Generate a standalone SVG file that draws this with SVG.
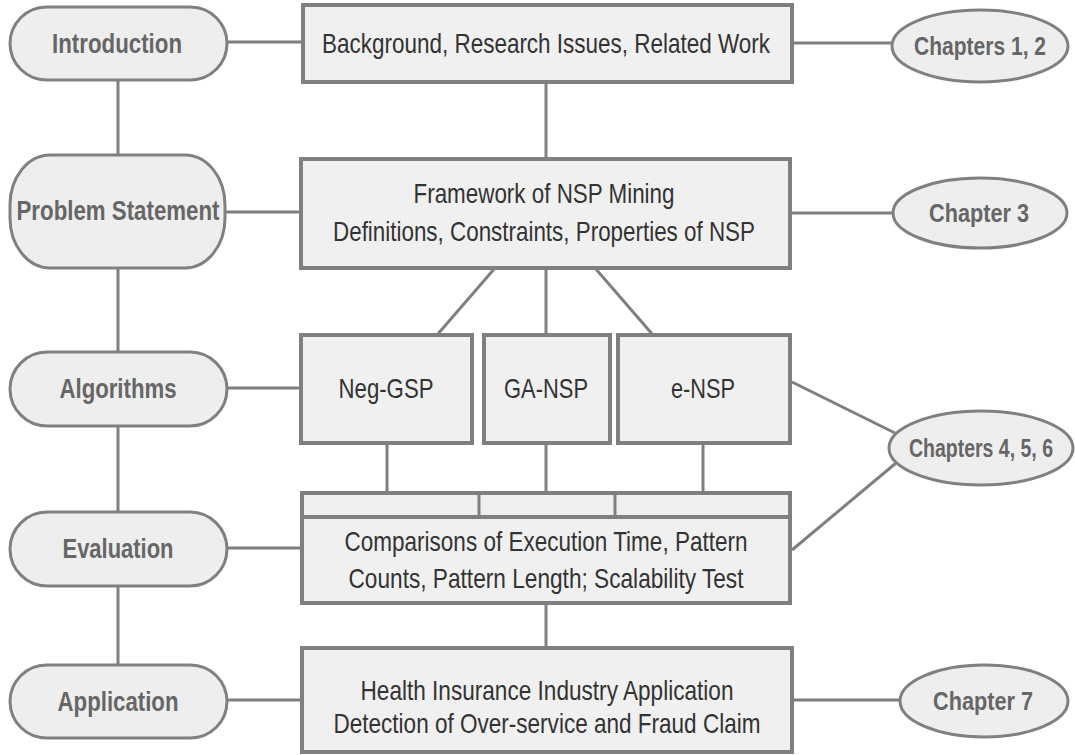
<svg xmlns="http://www.w3.org/2000/svg" width="1075" height="755" viewBox="0 0 1075 755">
<style>
.box{fill:#f0f0f0;stroke:#7f7f7f;stroke-width:4}
.pill{fill:#eeeeee;stroke:#808080;stroke-width:3}
.ell{fill:#eeeeee;stroke:#808080;stroke-width:3}
.ln{stroke:#7f7f7f;stroke-width:3;fill:none}
.t{font-family:"Liberation Sans",Arial,sans-serif;font-size:28px;fill:#333333;text-anchor:middle}
.b{font-family:"Liberation Sans",Arial,sans-serif;font-size:27px;font-weight:bold;fill:#666666;text-anchor:middle}
.c{font-family:"Liberation Sans",Arial,sans-serif;font-size:25px;font-weight:bold;fill:#666666;text-anchor:middle}
</style>
<rect width="1075" height="755" fill="#ffffff"/>
<g id="connectors">
<line class="ln" x1="118" y1="80" x2="118" y2="155"/>
<line class="ln" x1="118" y1="268" x2="118" y2="352"/>
<line class="ln" x1="118" y1="426" x2="118" y2="512"/>
<line class="ln" x1="118" y1="586" x2="118" y2="665"/>
<line class="ln" x1="227" y1="42" x2="303" y2="42"/>
<line class="ln" x1="792" y1="43" x2="892" y2="43"/>
<line class="ln" x1="546" y1="82" x2="546" y2="159"/>
<line class="ln" x1="225" y1="212" x2="301" y2="212"/>
<line class="ln" x1="790" y1="213" x2="892" y2="213"/>
<line class="ln" x1="495" y1="268" x2="437" y2="335"/>
<line class="ln" x1="546" y1="268" x2="546" y2="335"/>
<line class="ln" x1="595" y1="268" x2="653" y2="335"/>
<line class="ln" x1="227" y1="388" x2="301" y2="388"/>
<line class="ln" x1="387" y1="443" x2="387" y2="493"/>
<line class="ln" x1="546" y1="443" x2="546" y2="493"/>
<line class="ln" x1="703" y1="443" x2="703" y2="493"/>
<line class="ln" x1="792" y1="382" x2="895" y2="433"/>
<line class="ln" x1="792" y1="550" x2="896" y2="463"/>
<line class="ln" x1="227" y1="548" x2="302" y2="548"/>
<line class="ln" x1="546" y1="603" x2="546" y2="648"/>
<line class="ln" x1="227" y1="700" x2="302" y2="700"/>
<line class="ln" x1="792" y1="700" x2="900" y2="700"/>
</g>
<g id="introduction">
<rect class="pill" x="10" y="7" width="217" height="73" rx="36.5" ry="36.5"/>
<text class="b" x="117" y="53" textLength="130" lengthAdjust="spacingAndGlyphs">Introduction</text>
</g>
<g id="problem-statement">
<rect class="pill" x="10" y="155" width="215" height="113" rx="40" ry="50"/>
<text class="b" x="118" y="220" textLength="203" lengthAdjust="spacingAndGlyphs">Problem Statement</text>
</g>
<g id="algorithms">
<rect class="pill" x="10" y="352" width="217" height="74" rx="37" ry="37"/>
<text class="b" x="118" y="398" textLength="117" lengthAdjust="spacingAndGlyphs">Algorithms</text>
</g>
<g id="evaluation">
<rect class="pill" x="10" y="512" width="217" height="74" rx="37" ry="37"/>
<text class="b" x="118" y="558" textLength="111" lengthAdjust="spacingAndGlyphs">Evaluation</text>
</g>
<g id="application">
<rect class="pill" x="10" y="665" width="217" height="73" rx="36.5" ry="36.5"/>
<text class="b" x="118" y="711" textLength="121" lengthAdjust="spacingAndGlyphs">Application</text>
</g>
<g id="background">
<rect class="box" x="303" y="5" width="489" height="77"/>
<text class="t" x="546" y="53" textLength="448" lengthAdjust="spacingAndGlyphs">Background, Research Issues, Related Work</text>
</g>
<g id="framework">
<rect class="box" x="301" y="159" width="489" height="109"/>
<text class="t" x="544" y="203" textLength="261" lengthAdjust="spacingAndGlyphs">Framework of NSP Mining</text>
<text class="t" x="544" y="241" textLength="422" lengthAdjust="spacingAndGlyphs">Definitions, Constraints, Properties of NSP</text>
</g>
<g id="neg-gsp">
<rect class="box" x="301" y="335" width="171" height="108"/>
<text class="t" x="386" y="398" textLength="95" lengthAdjust="spacingAndGlyphs">Neg-GSP</text>
</g>
<g id="ga-nsp">
<rect class="box" x="484" y="335" width="126" height="108"/>
<text class="t" x="546" y="398" textLength="84" lengthAdjust="spacingAndGlyphs">GA-NSP</text>
</g>
<g id="e-nsp">
<rect class="box" x="618" y="335" width="172" height="108"/>
<text class="t" x="703" y="398" textLength="64" lengthAdjust="spacingAndGlyphs">e-NSP</text>
</g>
<g id="comparisons">
<rect class="box" x="302" y="493" width="488" height="110"/>
<line class="ln" x1="302" y1="517" x2="790" y2="517" style="stroke-width:4"/>
<line class="ln" x1="479" y1="493" x2="479" y2="517"/>
<line class="ln" x1="615" y1="493" x2="615" y2="517"/>
<text class="t" x="546" y="551" textLength="403" lengthAdjust="spacingAndGlyphs">Comparisons of Execution Time, Pattern</text>
<text class="t" x="546" y="588" textLength="395" lengthAdjust="spacingAndGlyphs">Counts, Pattern Length; Scalability Test</text>
</g>
<g id="health">
<rect class="box" x="302" y="648" width="490" height="104"/>
<text class="t" x="547" y="700" textLength="373" lengthAdjust="spacingAndGlyphs">Health Insurance Industry Application</text>
<text class="t" x="547" y="733" textLength="427" lengthAdjust="spacingAndGlyphs">Detection of Over-service and Fraud Claim</text>
</g>
<g id="chapters-1-2">
<ellipse class="ell" cx="980" cy="46" rx="88" ry="36"/>
<text class="c" x="980" y="55" textLength="132" lengthAdjust="spacingAndGlyphs">Chapters 1, 2</text>
</g>
<g id="chapter-3">
<ellipse class="ell" cx="980" cy="213" rx="87" ry="35"/>
<text class="c" x="979" y="222" textLength="100" lengthAdjust="spacingAndGlyphs">Chapter 3</text>
</g>
<g id="chapters-4-5-6">
<ellipse class="ell" cx="981" cy="448" rx="92" ry="37"/>
<text class="c" x="981" y="457" textLength="144" lengthAdjust="spacingAndGlyphs">Chapters 4, 5, 6</text>
</g>
<g id="chapter-7">
<ellipse class="ell" cx="984" cy="701" rx="84" ry="36"/>
<text class="c" x="983" y="710" textLength="100" lengthAdjust="spacingAndGlyphs">Chapter 7</text>
</g>
</svg>
